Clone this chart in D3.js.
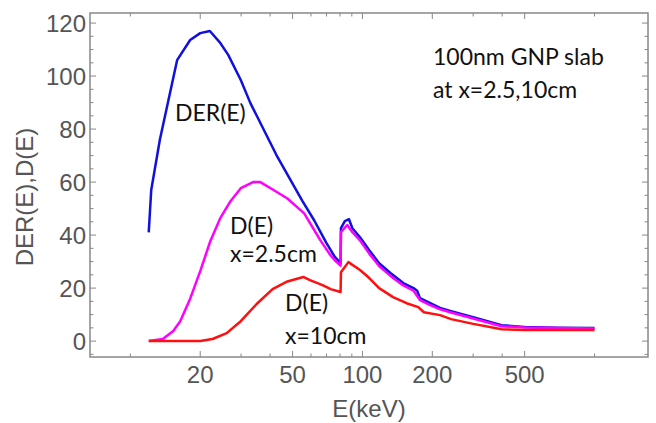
<!DOCTYPE html>
<html>
<head>
<meta charset="utf-8">
<script src="https://cdn.jsdelivr.net/npm/d3@7"></script>
<style>
  body { margin: 0; background: #fff; }
</style>
</head>
<body>
<script>
// DER(E), blue
const derE = [12, 12.3, 13.4, 15.9, 18.1, 20, 22, 24.4, 26.4, 29.9, 32.9, 42.6, 55, 62, 70, 76, 80.5, 80.8, 84, 87.5, 90.5, 97.6, 107, 118, 132, 150, 166, 172, 177, 196, 216, 241, 300, 398, 500, 700, 1000];
const derV = [41, 57, 76, 106, 113.6, 116.2, 117, 112.5, 108, 98.5, 89.8, 70.2, 53, 45.5, 37, 31.8, 29.4, 42.6, 45.3, 46, 42.6, 39.2, 34.3, 29.4, 25.7, 21.9, 20, 19, 16.2, 14.3, 12.5, 11.3, 9, 6, 5.3, 5, 4.9];

// D(E) at x=2.5cm, magenta
const d25E = [12, 13.8, 15.3, 16.4, 18.1, 20, 22.1, 24.4, 27, 29.9, 33.8, 36.3, 41.4, 47.5, 56.1, 65.8, 72, 76, 80.5, 80.8, 86, 90.5, 97.6, 107, 118, 132, 150, 166, 177, 196, 216, 241, 300, 398, 500, 700, 1000];
const d25V = [0, 0.8, 3.8, 7.5, 16, 26.4, 37.7, 46.4, 52.8, 57.7, 60, 60, 57, 53.8, 48.2, 38.1, 33, 30.5, 28.5, 41.1, 43.8, 41.1, 38, 33, 28.3, 24.6, 21, 19, 15.5, 13.6, 12, 10.8, 8.5, 5.6, 5.1, 4.9, 4.8];

// D(E) at x=10cm, red
const d10E = [12, 20, 22.6, 26, 29.9, 35, 41, 47.5, 55.6, 59.4, 67.3, 73, 80.5, 80.8, 87, 97.6, 107, 118, 135.5, 155, 174, 184, 216, 241, 300, 398, 500, 700, 1000];
const d10V = [0, 0, 0.8, 3, 7.5, 14, 19.6, 22.5, 24.2, 23, 21.1, 19.6, 18.5, 26, 29.8, 26.8, 23.8, 20, 16.6, 14.3, 12.8, 10.9, 9.8, 8.3, 6.5, 4.5, 4.2, 4.2, 4.2];

const xMajor = [20, 50, 100, 200, 500];
const xMinor = [10, 30, 40, 60, 70, 80, 90, 300, 400, 1000];
const yMajor = [0, 20, 40, 60, 80, 100, 120];
const yMinor = [-5, 5, 10, 15, 25, 30, 35, 45, 50, 55, 65, 70, 75, 85, 90, 95, 105, 110, 115];

const w = 656, h = 423;
const pLeft = 90, pRight = 648, pTop = 13, pBottom = 357;
const axisFont = "'Liberation Sans', Arial, Helvetica, sans-serif";
const noteFont = "Lato, 'Open Sans', sans-serif";

const x = d3.scaleLog().domain([6.7, 1700]).range([pLeft, pRight]);
const y = d3.scaleLinear().domain([-6, 123.8]).range([pBottom, pTop]);

const svg = d3.select("body").append("svg")
  .attr("width", w)
  .attr("height", h);

const frame = "#888";

// ticks, pointing inward on all four sides
function xTicks(vals, len) {
  vals.forEach(v => {
    svg.append("line").attr("x1", x(v)).attr("x2", x(v))
      .attr("y1", pBottom).attr("y2", pBottom - len)
      .attr("stroke", frame).attr("stroke-width", 1);
    svg.append("line").attr("x1", x(v)).attr("x2", x(v))
      .attr("y1", pTop).attr("y2", pTop + len)
      .attr("stroke", frame).attr("stroke-width", 1);
  });
}
function yTicks(vals, len) {
  vals.forEach(v => {
    svg.append("line").attr("x1", pLeft).attr("x2", pLeft + len)
      .attr("y1", y(v)).attr("y2", y(v))
      .attr("stroke", frame).attr("stroke-width", 1);
    svg.append("line").attr("x1", pRight).attr("x2", pRight - len)
      .attr("y1", y(v)).attr("y2", y(v))
      .attr("stroke", frame).attr("stroke-width", 1);
  });
}
xTicks(xMajor, 6);
xTicks(xMinor, 3.5);
yTicks(yMajor, 6);
yTicks(yMinor, 3.5);

svg.append("rect")
  .attr("x", pLeft).attr("y", pTop)
  .attr("width", pRight - pLeft).attr("height", pBottom - pTop)
  .attr("fill", "none").attr("stroke", frame).attr("stroke-width", 1.5);

svg.selectAll(".xl").data(xMajor).enter().append("text")
  .attr("font-family", axisFont).attr("font-size", 24).attr("fill", "#555")
  .attr("x", d => x(d)).attr("y", pBottom + 26)
  .attr("text-anchor", "middle")
  .text(d => d);

svg.selectAll(".yl").data(yMajor).enter().append("text")
  .attr("font-family", axisFont).attr("font-size", 24).attr("fill", "#555")
  .attr("x", pLeft - 4).attr("y", d => y(d) + 8.5)
  .attr("text-anchor", "end")
  .text(d => d);

svg.append("text")
  .attr("font-family", axisFont).attr("font-size", 24).attr("fill", "#555")
  .attr("x", 369).attr("y", 417)
  .attr("text-anchor", "middle")
  .text("E(keV)");

svg.append("text")
  .attr("font-family", axisFont).attr("font-size", 24).attr("fill", "#555")
  .attr("transform", "translate(33,197) rotate(-90)")
  .attr("text-anchor", "middle")
  .text("DER(E),D(E)");

const line = d3.line().x(d => x(d[0])).y(d => y(d[1]));

const series = [
  { e: derE, v: derV, color: "#1010e0" },
  { e: d25E, v: d25V, color: "#ff00ff" },
  { e: d10E, v: d10V, color: "#ff1010" }
];

series.forEach(s => {
  svg.append("path")
    .datum(s.e.map((e, i) => [e, s.v[i]]))
    .attr("d", line)
    .attr("fill", "none")
    .attr("stroke", s.color)
    .attr("stroke-width", 2.5)
    .attr("stroke-linejoin", "round");
});

// annotations
const notes = [
  ["DER(E)", 175, 121],
  ["D(E)", 230, 234],
  ["x=2.5cm", 230, 262],
  ["D(E)", 285, 311],
  ["x=10cm", 285, 344],
  ["100nm GNP slab", 433, 65],
  ["at x=2.5,10cm", 433, 98]
];
svg.selectAll(".note").data(notes).enter().append("text")
  .attr("font-family", noteFont).attr("font-size", 23).attr("fill", "#111")
  .attr("x", d => d[1]).attr("y", d => d[2])
  .text(d => d[0]);
</script>
</body>
</html>
